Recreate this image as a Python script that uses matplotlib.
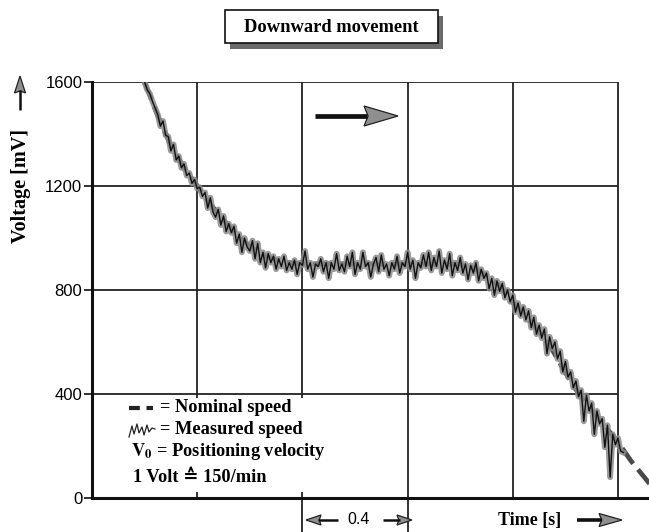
import numpy as np
import matplotlib
matplotlib.use("Agg")
import matplotlib.pyplot as plt
from matplotlib.patches import Rectangle, Polygon
from matplotlib.lines import Line2D

plt.rcParams['mathtext.fontset'] = 'stix'

# ---------------- data ----------------
y_ticks = [0, 400, 800, 1200, 1600]
x_grid = [0.4, 0.8, 1.2, 1.6, 2.0]

nominal_t = [0.20, 0.25, 0.30, 0.35, 0.40, 0.45, 0.50, 0.55, 0.60, 0.65, 0.70, 0.75,
             0.80, 0.90, 1.00, 1.10, 1.20, 1.30, 1.40, 1.45, 1.50, 1.55, 1.60, 1.65,
             1.70, 1.75, 1.80, 1.85, 1.90, 1.95, 2.00, 2.05, 2.10, 2.12]
nominal_v = [1600, 1470, 1355, 1270, 1200, 1130, 1070, 1012, 968, 935, 915, 905,
             900, 900, 900, 900, 900, 900, 898, 885, 855, 815, 752, 700,
             640, 570, 482, 402, 337, 277, 215, 142, 80, 55]

measured_t0 = 0.20
measured_dt = 0.01
measured_v = [
    1600, 1570, 1555, 1525, 1500, 1475, 1430, 1450, 1395, 1390,   # 0.20
    1335, 1360, 1300, 1315, 1270, 1285, 1240, 1250, 1210, 1225,   # 0.30
    1190, 1195, 1160, 1175, 1115, 1155, 1100, 1080, 1110, 1050,   # 0.40
    1085, 1025, 1055, 1020, 1045, 980, 1015, 945, 1000, 965,      # 0.50
    950, 990, 920, 980, 905, 945, 885, 940, 905, 930,             # 0.60
    880, 920, 890, 930, 875, 905, 880, 915, 860, 905,             # 0.70
    895, 950, 880, 905, 850, 900, 890, 920, 870, 905,             # 0.80
    845, 905, 880, 940, 875, 900, 870, 930, 890, 945,             # 0.90
    860, 905, 880, 945, 890, 905, 850, 900, 925, 870,             # 1.00
    935, 880, 900, 855, 905, 880, 930, 865, 905, 890,             # 1.10
    945, 880, 915, 845, 905, 885, 935, 890, 945, 875,             # 1.20
    925, 890, 950, 865, 915, 880, 940, 855, 905, 875,             # 1.30
    925, 865, 900, 840, 895, 865, 905, 835, 880, 845,             # 1.40
    865, 805, 845, 780, 835, 795, 825, 770, 800, 755,             # 1.50
    780, 715, 750, 700, 735, 685, 720, 655, 695, 630,             # 1.60
    665, 615, 650, 555, 620, 575, 600, 535, 565, 485,             # 1.70
    525, 465, 485, 425, 450, 390, 415, 295, 395, 335,             # 1.80
    365, 245, 335, 285, 305, 195, 280, 80, 245, 205,              # 1.90
    230, 180, 175,                                                # 2.00
]
measured_t = measured_t0 + measured_dt * np.arange(len(measured_v))

# ---------------- figure ----------------
W, H = 649, 532
fig = plt.figure(figsize=(W / 100, H / 100), dpi=100)
ax_left, ax_right, ax_top, ax_bottom = 92, 649, 82, 498
ax = fig.add_axes([ax_left / W, 1 - ax_bottom / H, (ax_right - ax_left) / W,
                   (ax_bottom - ax_top) / H])
x_max = (ax_right - ax_left) / ((618 - 92) / 2.0)
ax.set_xlim(0, x_max)
ax.set_ylim(0, 1600)

for s in ['top', 'right']:
    ax.spines[s].set_visible(False)
for s in ['left', 'bottom']:
    ax.spines[s].set_linewidth(2.2)
    ax.spines[s].set_color('#111111')

ax.set_xticks([])
ax.set_yticks(y_ticks)
ax.set_yticklabels([str(v) for v in y_ticks], family='Liberation Sans', fontsize=12)
ax.tick_params(axis='y', length=6, width=1.2, pad=1, color='#111111')

# grid
grid_c = '#222222'
for v in y_ticks[1:]:
    ax.plot([0, 2.0], [v, v], color=grid_c, lw=1.3, zorder=1, solid_capstyle='butt')
for x in x_grid:
    ax.plot([x, x], [0, 1600], color=grid_c, lw=1.3, zorder=1, solid_capstyle='butt')

# legend white box (covers grid)
ax.add_patch(Rectangle((0.01, 22), 0.93, 362, facecolor='white', edgecolor='none',
                       zorder=2))

# curves
ax.plot(nominal_t, nominal_v, color='#4a4a4a', lw=3.4, dashes=(4, 1.6), zorder=3)
ax.plot(measured_t, measured_v, color='#8a8a8a', lw=4.2, zorder=4, alpha=0.85,
        solid_joinstyle='round')
ax.plot(measured_t, measured_v, color='#111111', lw=1.0, zorder=5)

# ---------------- annotations ----------------
def fx(x):
    return x / W

def fy(y):
    return 1 - y / H

def arrow(x0, y0, x1, y1, hl, hw, lw):
    d = np.array([x1 - x0, y1 - y0], dtype=float)
    u = d / np.hypot(*d)
    n = np.array([-u[1], u[0]])
    base = np.array([x1, y1]) - u * hl
    fig.add_artist(Line2D([fx(x0), fx(base[0] + u[0] * 3)], [fy(y0), fy(base[1] + u[1] * 3)],
                          transform=fig.transFigure, color='#111111', lw=lw,
                          solid_capstyle='butt'))
    pts = [np.array([x1, y1]), base + n * hw, base + u * hl * 0.12, base - n * hw]
    fig.add_artist(Polygon([(fx(p[0]), fy(p[1])) for p in pts], closed=True,
                           transform=fig.transFigure, facecolor='#8f8f8f',
                           edgecolor='#222222', lw=0.9))

serif = 'Liberation Serif'

# title box
fig.add_artist(Rectangle((fx(230), fy(49)), 213 / W, 33 / H, transform=fig.transFigure,
                         facecolor='#6a6a6a', edgecolor='none'))
fig.add_artist(Rectangle((fx(225), fy(43)), 213 / W, 33 / H, transform=fig.transFigure,
                         facecolor='white', edgecolor='#111111', lw=1.2))
fig.text(fx(331), fy(28), 'Downward movement', family=serif, weight='bold',
         fontsize=13.3, ha='center', va='center')

# y label and arrow
fig.text(fx(21), fy(186), 'Voltage [mV]', family=serif, weight='bold', fontsize=14.5,
         rotation=90, ha='center', va='center')
arrow(20, 110, 20, 76, 17, 5.5, 1.8)

# arrow inside plot
arrow(315, 116, 398, 116, 34, 10, 3.4)

# time label and arrow
fig.text(fx(498), fy(521), 'Time [s]', family=serif, weight='bold', fontsize=13,
         ha='left', va='center')
arrow(577, 520, 622, 520, 23, 6.5, 2.6)

# 0.4 span
for x in [0.8, 1.2]:
    ax.plot([x, x], [0, -34 * 1600 / (ax_bottom - ax_top)], color=grid_c, lw=1.3,
            clip_on=False, zorder=1)
arrow(338, 520, 306, 520, 15, 5, 1.8)
arrow(383, 520, 412, 520, 15, 5, 1.8)
fig.text(fx(359), fy(520), '0.4', family='Liberation Sans', fontsize=11.5,
         ha='center', va='center')

# legend
fig.add_artist(Line2D([fx(129), fx(153)], [fy(408), fy(408)], transform=fig.transFigure,
                      color='#222222', lw=3, dashes=(2.6, 1.6)))
fig.text(fx(160), fy(408), '= Nominal speed', family=serif, weight='bold', fontsize=13.2,
         ha='left', va='center')
squig_x = [129, 132, 134, 137, 139, 142, 144, 147, 149, 152, 155]
squig_y = [437, 426, 434, 424, 433, 427, 435, 425, 432, 428, 429]
fig.add_artist(Line2D([fx(v) for v in squig_x], [fy(v) for v in squig_y],
                      transform=fig.transFigure, color='#222222', lw=0.9))
fig.text(fx(160), fy(430), '= Measured speed', family=serif, weight='bold', fontsize=13.2,
         ha='left', va='center')
fig.text(fx(131), fy(452), r'$\mathbf{V_0}$ = Positioning velocity', family=serif,
         weight='bold', fontsize=13.2, ha='left', va='center')
fig.text(fx(133), fy(477), '1 Volt \u2259 150/min', family=[serif, 'DejaVu Sans'],
         weight='bold', fontsize=13.2, ha='left', va='center')

fig.savefig('out.png', dpi=100)
